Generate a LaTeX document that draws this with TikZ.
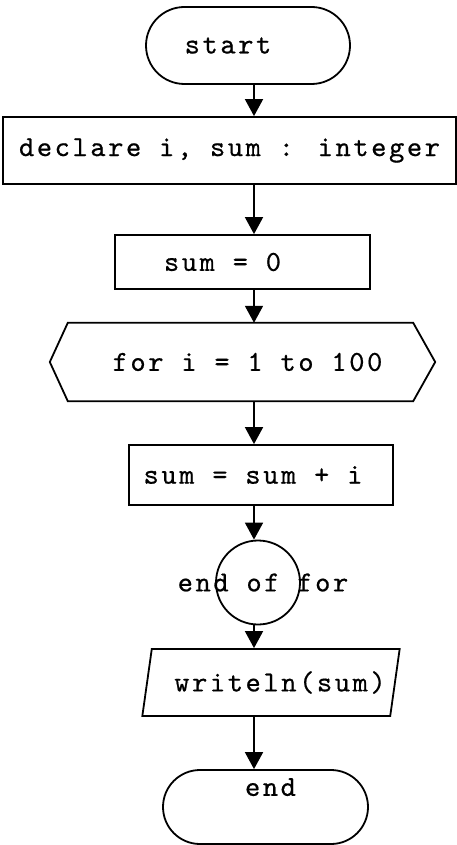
\documentclass[tikz,border=0pt]{standalone}
\usepackage{fontspec}
\newfontfamily\flowfont{lmmono10-regular}[Extension=.otf,LetterSpace=9,FakeBold=0.6]
\usetikzlibrary{shapes.misc,shapes.geometric,arrows.meta}
\begin{document}
\begin{tikzpicture}[x=1pt,y=-1pt,
  every node/.style={font=\flowfont\fontsize{29}{32}\selectfont},
  shp/.style={draw=black,line width=1.8pt,inner sep=0pt},
  term/.style={shp,rounded rectangle},
  procbox/.style={shp,rectangle},
  hexbox/.style={rectangle,inner sep=0pt},
  endfor/.style={shp,circle},
  iobox/.style={shp,trapezium,trapezium left angle=68,trapezium right angle=112,trapezium stretches=true},
  arr/.style={line width=1.8pt,-{Triangle[width=18pt,length=17pt]}}]
\useasboundingbox (0,0) rectangle (457,845);
\coordinate (spine) at (254,0);
\node[term,minimum width=204pt,minimum height=77pt] (start) at (248,45.5) {start\hspace*{40pt}};
\node[procbox,minimum width=453pt,minimum height=67pt] (decl) at (229.5,150.5) {declare i, sum : integer};
\node[procbox,minimum width=255pt,minimum height=54pt] (sum0) at (242.5,262) {sum = 0\hspace*{40pt}};
\node[hexbox,minimum width=345pt,minimum height=78pt] (for) at (240.5,362) {\hspace*{14pt}for i = 1 to 100};
\draw[line width=1.8pt,line join=miter] (for.north west) -- (for.north east) -- ([xshift=22pt]for.east) -- (for.south east) -- (for.south west) -- ([xshift=-18pt]for.west) -- cycle;
\node[procbox,minimum width=264pt,minimum height=60pt] (body) at (261,475) {sum = sum + i\hspace*{16pt}};
\node[endfor,minimum size=84pt] (eof) at (258,582.5) {\makebox[0pt]{\hspace*{10pt}end of for}};
\node[iobox,minimum width=258pt,minimum height=67pt] (out) at (271,682.5) {\hspace*{18pt}writeln(sum)};
\node[term,minimum width=205pt,minimum height=74pt] (stop) at (265.5,807) {\hspace*{10pt}\raisebox{40pt}{end}};
\draw[arr] (start.south -| spine) -- (decl.north -| spine);
\draw[arr] (decl.south -| spine) -- (sum0.north -| spine);
\draw[arr] (sum0.south -| spine) -- (for.north -| spine);
\draw[arr] (for.south -| spine) -- (body.north -| spine);
\draw[arr] (body.south -| spine) -- (eof.north -| spine);
\draw[arr] (eof.south -| spine) -- (out.north -| spine);
\draw[arr] (out.south -| spine) -- (stop.north -| spine);
\end{tikzpicture}
\end{document}
